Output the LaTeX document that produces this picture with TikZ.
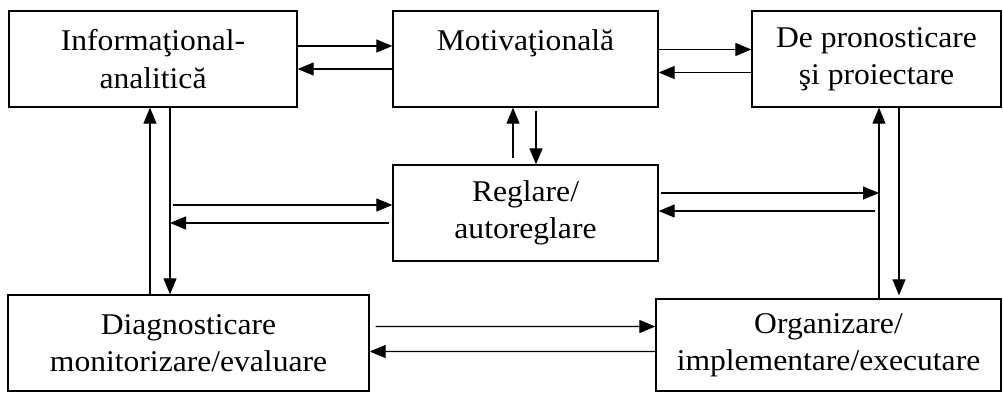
\documentclass[tikz,border=0pt]{standalone}
\usepackage{fontspec}
\setmainfont{Liberation Serif}[FakeStretch=1.05]
\usetikzlibrary{arrows.meta, calc}

\begin{document}
\begin{tikzpicture}[x=1bp, y=1bp,
    box/.style={draw, line width=1.3bp, align=center, inner sep=0pt,
        font=\fontsize{30.2}{37.5}\selectfont},
    arr/.style={line width=1.1bp, -{Triangle[length=16bp,width=13bp]}}]
    \useasboundingbox (0,0) rectangle (1003,392);

    \node[box, minimum width=288bp, minimum height=96bp] (info) at (153,333) {Informaţional-\\analitică};
    \node[box, minimum width=265bp, minimum height=96bp] (motiv) at (525.5,333) {Motivaţională\\\mbox{}};
    \node[box, minimum width=249bp, minimum height=96bp] (prog) at (876.5,333) {De pronosticare\\şi proiectare};
    \node[box, minimum width=265bp, minimum height=96bp] (regl) at (525.5,179) {Reglare/\\autoreglare};
    \node[box, minimum width=361bp, minimum height=96bp] (diag) at (188.5,49) {Diagnosticare\\monitorizare/evaluare};
    \node[box, minimum width=345bp, minimum height=92bp] (org) at (828.5,47) {Organizare/\\implementare/executare};

    \coordinate (lbus) at (170,179);
    \coordinate (rbus) at (879,179);

    \draw[arr] ([yshift=13bp]info.east) -- ([yshift=13bp]motiv.west);
    \draw[arr] ([yshift=-10bp]motiv.west) -- ([yshift=-10bp]info.east);
    \draw[arr] ([yshift=9.5bp]motiv.east) -- ([yshift=9.5bp]prog.west);
    \draw[arr] ([yshift=-13.5bp]prog.west) -- ([yshift=-13.5bp]motiv.east);

    \draw[arr, shorten <=6bp] ([xshift=-12.5bp]regl.north) -- ([xshift=-12.5bp]motiv.south);
    \draw[arr, shorten <=3bp] ([xshift=10.5bp]motiv.south) -- ([xshift=10.5bp]regl.north);

    \draw[arr] (150,0 |- diag.north) -- (150,0 |- info.south);
    \draw[arr] (170,0 |- info.south) -- (170,0 |- diag.north);
    \draw[arr] ([xshift=3bp,yshift=8bp]lbus) -- ([yshift=8bp]regl.west);
    \draw[arr] ([xshift=-3bp,yshift=-10bp]regl.west) -- ([yshift=-10bp]lbus);

    \draw[arr] (879,0 |- org.north) -- (879,0 |- prog.south);
    \draw[arr, shorten >=3bp] (899,0 |- prog.south) -- (899,0 |- org.north);
    \draw[arr] ([xshift=2bp,yshift=20bp]regl.east) -- ([yshift=20bp]rbus);
    \draw[arr] ([xshift=-4bp,yshift=2bp]rbus) -- ([yshift=2bp]regl.east);

    \draw[arr] ([shift={(6,16.5)}]diag.east) -- ([yshift=18.5bp]org.west);
    \draw[arr] ([yshift=-6.5bp]org.west) -- ([yshift=-8.5bp]diag.east);
\end{tikzpicture}
\end{document}
